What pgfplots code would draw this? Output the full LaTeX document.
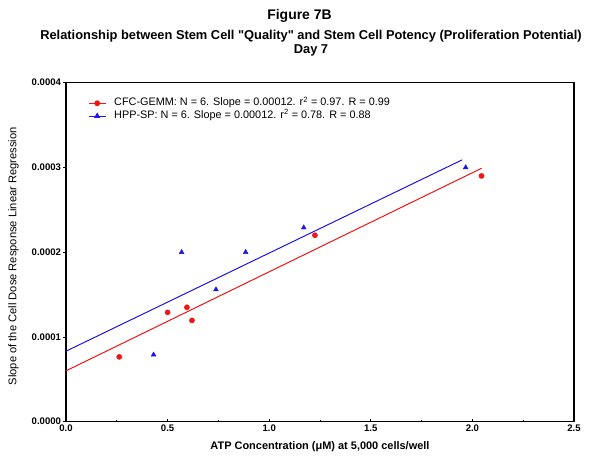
\documentclass[border=0pt]{standalone}
\usepackage{fontspec}
\setmainfont{Liberation Sans}[Ligatures=TeXOff]
\usepackage{pgfplots}
\pgfplotsset{compat=1.18}

\definecolor{gemmred}{RGB}{240,20,20}
\definecolor{hppblue}{RGB}{30,20,230}

\begin{document}
\begin{tikzpicture}
  % Figure 7B: stem cell quality vs potency, day 7
  \begin{axis}[
    name=ax,
    scale only axis,
    width=508bp, height=339bp,
    xmin=0, xmax=2.5, ymin=0, ymax=0.0004,
    xtick={0,0.5,1,1.5,2,2.5},
    minor xtick={0.25,0.75,1.25,1.75,2.25},
    ytick={0,0.0001,0.0002,0.0003,0.0004},
    xtick pos=bottom, ytick pos=left,
    tick align=inside,
    major tick length=3bp, minor tick length=2bp,
    tick style={black, line width=0.8bp},
    y tick style={xshift=-3bp},
    axis line style={line width=1.2bp},
    scaled y ticks=false,
    xticklabel style={/pgf/number format/.cd, fixed, fixed zerofill, precision=1, assume math mode=true},
    yticklabel style={xshift=-1.5bp, /pgf/number format/.cd, fixed, fixed zerofill, precision=4, assume math mode=true},
    ticklabel style={font=\bfseries\fontsize{9.6}{11}\selectfont},
    clip=false,
    legend style={at={(rel axis cs:0,1)}, anchor=north west, xshift=22bp, yshift=-15bp,
      draw=none, fill=none, inner sep=0pt, row sep=2bp,
      font=\fontsize{10.9}{13}\selectfont,
      nodes={inner sep=0.5bp, text height=7.6bp, text depth=2.2bp}},
    legend cell align=left,
    legend image code/.code={\draw[#1] plot coordinates {(0bp,0bp) (8.5bp,0bp) (17bp,0bp)};
      \path (24.5bp,0bp);},
  ]
    % CFC-GEMM
    \addplot[only marks, mark=*, mark size=2.6bp, color=gemmred, forget plot] coordinates {
      (0.262,0.0000765) (0.500,0.000129) (0.595,0.000135)
      (0.620,0.0001195) (1.225,0.000220) (2.045,0.000290)
    };
    \addplot[gemmred, line width=1bp, forget plot] coordinates {
      (0,0.0000600) (2.045,0.000299)
    };
    % HPP-SP
    \addplot[only marks, mark=triangle*, mark size=2.8bp, color=hppblue, forget plot] coordinates {
      (0.431,0.0000790) (0.569,0.000200) (0.738,0.000156)
      (0.884,0.000200) (1.170,0.000229) (1.967,0.000300)
    };
    \addplot[hppblue, line width=1bp, forget plot] coordinates {
      (0,0.0000832) (1.950,0.000309)
    };
    \addlegendimage{gemmred, line width=1bp, mark=*, mark size=2.4bp, mark repeat=2, mark phase=2}
    \addlegendentry{CFC-GEMM: N = 6. Slope = 0.00012. r\textsuperscript{2} = 0.97. R = 0.99}
    \addlegendimage{hppblue, line width=1bp, mark=triangle*, mark size=2.6bp, mark repeat=2, mark phase=2}
    \addlegendentry{HPP-SP: N = 6. Slope = 0.00012. r\textsuperscript{2} = 0.78. R = 0.88}
  \end{axis}
  \node[anchor=base, font=\bfseries\fontsize{14}{16}\selectfont]
    at ([shift={(233.5bp,63bp)}]ax.north west) {Figure 7B};
  \node[anchor=base, font=\bfseries\fontsize{12.9}{15}\selectfont]
    at ([shift={(245bp,42.7bp)}]ax.north west) {Relationship between Stem Cell "Quality" and Stem Cell Potency (Proliferation Potential)};
  \node[anchor=base, font=\bfseries\fontsize{12.9}{15}\selectfont]
    at ([shift={(245bp,29.2bp)}]ax.north west) {Day 7};
  \node[anchor=base, font=\bfseries\fontsize{11}{13}\selectfont]
    at ([shift={(0bp,-27.5bp)}]ax.south) {ATP Concentration (μM) at 5,000 cells/well};
  \node[rotate=90, anchor=center, font=\fontsize{11.2}{13}\selectfont]
    at ([shift={(-52.5bp,-4bp)}]ax.west) {Slope of the Cell Dose Response Linear Regression};
  \pgfresetboundingbox
  \path ([shift={(-66bp,-35.3bp)}]ax.south west) rectangle ([shift={(22bp,82.7bp)}]ax.north east);
\end{tikzpicture}
\end{document}
